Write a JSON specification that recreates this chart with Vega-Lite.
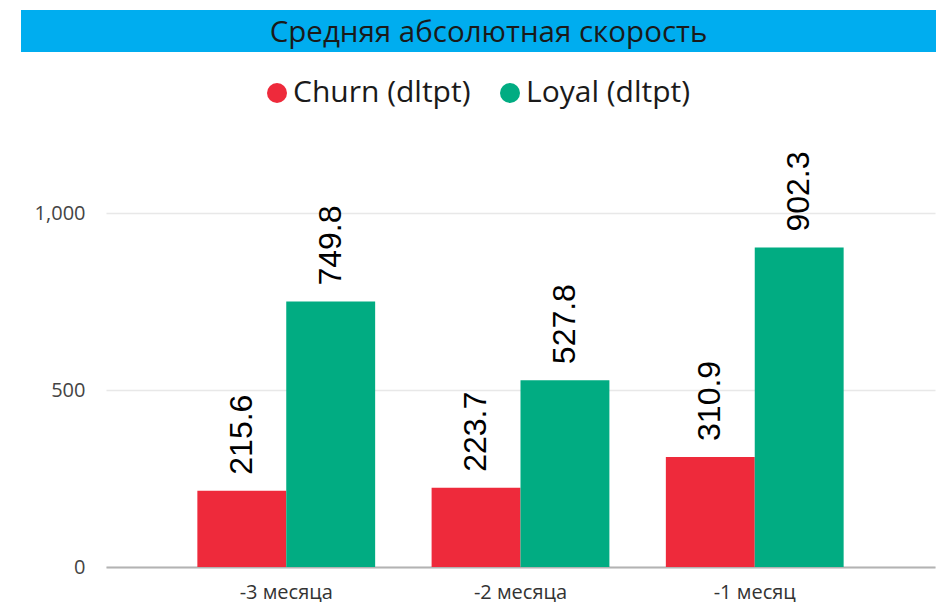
{
  "$schema": "https://vega.github.io/schema/vega-lite/v6.json",
  "background": "white",
  "padding": {"left": 21, "top": 10, "right": 0, "bottom": 0},
  "spacing": 26,
  "resolve": {"legend": {"color": "independent"}},
  "config": {"view": {"stroke": null}, "font": "Open Sans"},
  "vconcat": [
    {
      "width": 915,
      "height": 42,
      "view": {"fill": "#00ADEF", "stroke": null},
      "data": {"values": [{"title": "Средняя абсолютная скорость"}]},
      "mark": {"type": "text", "font": "Open Sans", "fontSize": 29.5, "color": "#1a1a1a", "baseline": "alphabetic", "dy": 11, "dx": 10},
      "encoding": {"text": {"field": "title", "type": "nominal"}}
    },
    {
      "resolve": {"legend": {"color": "independent"}},
      "spacing": 0,
      "hconcat": [
        {
          "width": 1,
          "height": 1,
          "data": {"values": []},
          "mark": {"type": "point", "opacity": 0}
        },
        {
          "width": 829,
          "height": 354,
          "data": {
            "values": [
              {"period": "-3 месяца", "series": "Churn (dltpt)", "value": 215.6},
              {"period": "-3 месяца", "series": "Loyal (dltpt)", "value": 749.8},
              {"period": "-2 месяца", "series": "Churn (dltpt)", "value": 223.7},
              {"period": "-2 месяца", "series": "Loyal (dltpt)", "value": 527.8},
              {"period": "-1 месяц", "series": "Churn (dltpt)", "value": 310.9},
              {"period": "-1 месяц", "series": "Loyal (dltpt)", "value": 902.3}
            ]
          },
          "encoding": {
            "x": {
              "field": "period",
              "type": "nominal",
              "sort": ["-3 месяца", "-2 месяца", "-1 месяц"],
              "scale": {"paddingInner": 0.241, "paddingOuter": 0.39},
              "axis": {
                "title": null,
                "labelAngle": 0,
                "domain": true,
                "domainColor": "#b3b3b3",
                "domainWidth": 2,
                "ticks": false,
                "labelFont": "Open Sans",
                "labelFontSize": 20,
                "labelColor": "#333333",
                "labelPadding": 15
              }
            },
            "xOffset": {
              "field": "series",
              "type": "nominal",
              "sort": ["Churn (dltpt)", "Loyal (dltpt)"],
              "scale": {"paddingInner": 0, "paddingOuter": 0}
            },
            "y": {
              "field": "value",
              "type": "quantitative",
              "scale": {"domain": [0, 1000], "nice": false},
              "axis": {
                "values": [0, 500, 1000],
                "format": ",d",
                "grid": true,
                "gridColor": "#e8e8e8",
                "gridWidth": 1.5,
                "domain": false,
                "ticks": false,
                "labelFont": "Open Sans",
                "labelFontSize": 20,
                "labelColor": "#444444",
                "labelPadding": 21,
                "title": "а",
                "titleOpacity": 0,
                "titleFontSize": 10,
                "titlePadding": 3,
                "minExtent": 71,
                "maxExtent": 71
              }
            }
          },
          "layer": [
            {
              "mark": {"type": "bar"},
              "encoding": {
                "color": {
                  "field": "series",
                  "type": "nominal",
                  "scale": {"domain": ["Churn (dltpt)", "Loyal (dltpt)"], "range": ["#EE2A3B", "#01AC82"]},
                  "legend": {
                    "orient": "none",
                    "legendX": 156,
                    "legendY": -135,
                    "direction": "horizontal",
                    "title": null,
                    "symbolType": "circle",
                    "symbolSize": 400,
                    "symbolStrokeWidth": 0,
                    "labelFont": "Open Sans",
                    "labelFontSize": 30,
                    "labelColor": "#1a1a1a",
                    "labelOffset": 1,
                    "labelLimit": 400,
                    "columnPadding": 24,
                    "padding": 0
                  }
                }
              }
            },
            {
              "mark": {"type": "text", "angle": -90, "align": "left", "baseline": "middle", "dx": 16, "font": "Liberation Sans", "fontSize": 32, "color": "#000000"},
              "encoding": {"text": {"field": "value", "type": "quantitative", "format": ".1f"}}
            }
          ]
        }
      ]
    }
  ]
}
